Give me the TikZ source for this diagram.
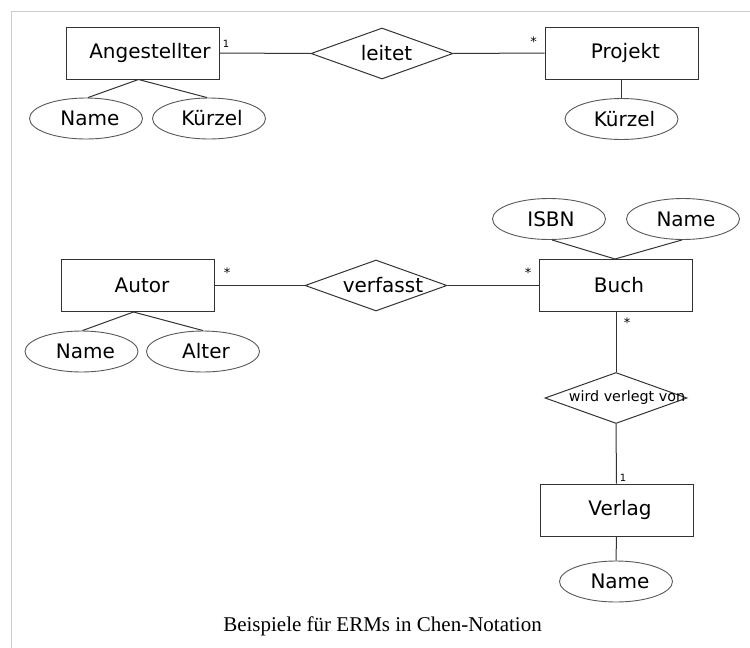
\documentclass[tikz,border=0pt]{standalone}
\usepackage{fontspec}
\setmainfont{DejaVu Sans}
\newfontfamily\capfont{Liberation Serif}
\usetikzlibrary{shapes.geometric}
\tikzset{
  ln/.style={draw=black!80, line width=1pt},
  entity/.style={ln, rectangle, minimum width=153pt, minimum height=52pt, inner sep=0pt, font=\fontsize{20}{24}\selectfont},
  attr/.style={draw=black!65, line width=0.9pt, ellipse, minimum width=113pt, minimum height=41pt, inner sep=0pt, font=\fontsize{20}{24}\selectfont},
  rel/.style={ln, diamond, minimum width=142pt, minimum height=51pt, inner sep=0pt, font=\fontsize{20}{24}\selectfont},
  card/.style={inner sep=0pt, font=\fontsize{10}{12}\selectfont},
  star/.style={inner sep=0pt, font=\fontsize{13}{15}\selectfont},
  frame/.style={draw=black!20, line width=1pt}
}
\newcommand{\shifted}[2]{\makebox[0pt]{\hspace*{#1pt}#2}}
\begin{document}
\begin{tikzpicture}[x=1pt,y=-1pt]
\useasboundingbox (0,0) rectangle (750,648);
\coordinate (f1) at (11,648);
\coordinate (f2) at (11,11);
\coordinate (f3) at (750,11);
\draw[frame] (f1) -- (f2) -- (f3);

% top example
\node[entity] (ang) at (142.5,53) {\shifted{15}{Angestellter}};
\node[rel] (leitet) at (382,53.5) {\shifted{9}{leitet}};
\node[entity] (proj) at (621.5,53) {\shifted{8}{Projekt}};
\node[attr] (angname) at (86,118.5) {\shifted{8}{Name}};
\node[attr] (angkz) at (209,118.5) {\shifted{6}{Kürzel}};
\node[attr] (projkz) at (621.5,119) {\shifted{6}{Kürzel}};
\node[card] (c1) at (226,44) {1};
\node[star] (c2) at (533.5,42) {*};

\draw[ln] (ang.east) -- (leitet.west);
\draw[ln] (leitet.east) -- (proj.west);
\draw[ln] ([xshift=-4pt]ang.south) -- ([xshift=2pt]angname.north);
\draw[ln] ([xshift=-4pt]ang.south) -- ([xshift=-2pt]angkz.north);
\draw[ln] (proj.south) -- (projkz.north);

% second example
\node[entity] (autor) at (137.5,285.5) {\shifted{9}{Autor}};
\node[rel] (verf) at (376,285.5) {\shifted{14}{verfasst}};
\node[entity] (buch) at (616,285.5) {\shifted{6}{Buch}};
\node[attr] (autname) at (81.5,351.5) {\shifted{8}{Name}};
\node[attr] (alter) at (203,351.5) {\shifted{6}{Alter}};
\node[attr] (isbn) at (549,219) {\shifted{4}{ISBN}};
\node[attr] (buchname) at (683,219) {\shifted{6}{Name}};
\node[rel, font=\fontsize{14.3}{17}\selectfont] (wvv) at (616,398) {\shifted{22}{wird verlegt von}};
\node[entity] (verlag) at (616.5,510) {\shifted{7}{Verlag}};
\node[attr] (verlname) at (616,581.5) {\shifted{8}{Name}};

\node[star] (c3) at (227,273) {*};
\node[star] (c4) at (528,273) {*};
\node[star] (c5) at (627,323) {*};
\node[card] (c6) at (623,478) {1};

\draw[ln] (autor.east) -- (verf.west);
\draw[ln] (verf.east) -- (buch.west);
\draw[ln] ([xshift=-4pt]autor.south) -- ([xshift=1pt]autname.north);
\draw[ln] ([xshift=-4pt]autor.south) -- (alter.north);
\draw[ln] ([xshift=3pt]isbn.south) -- ([xshift=-1pt]buch.north);
\draw[ln] ([xshift=-1pt]buchname.south) -- ([xshift=-1pt]buch.north);
\draw[ln] (buch.south) -- (wvv.north);
\draw[ln] (wvv.south) -- (verlag.north);
\draw[ln] (verlag.south) -- (verlname.north);

% caption
\node[font=\capfont\fontsize{21}{25}\selectfont, anchor=base] (cap) at (382.5,631) {Beispiele für ERMs in Chen-Notation};
\end{tikzpicture}
\end{document}
